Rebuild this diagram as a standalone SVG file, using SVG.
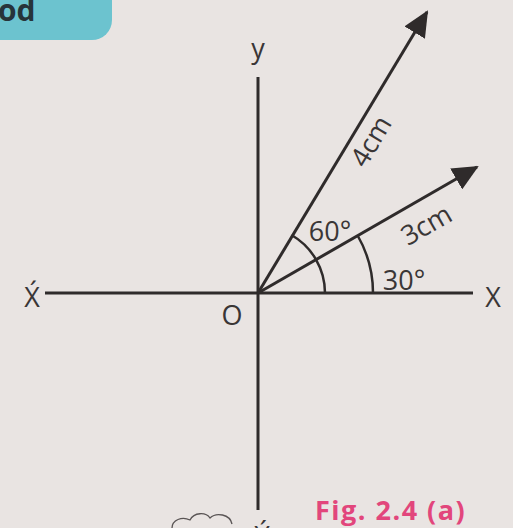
<svg xmlns="http://www.w3.org/2000/svg" width="513" height="528" viewBox="0 0 513 528">
<style>
.ln{stroke:#2f2b2b;stroke-width:3;fill:none;stroke-linecap:butt}
.arc{stroke:#2f2b2b;stroke-width:2.5;fill:none}
.t{font-family:"Open Sans","Liberation Sans",sans-serif;fill:#3a3636;font-size:27px}
.fig{font-family:"Open Sans","Liberation Sans",sans-serif;font-weight:bold;fill:#e2467c;font-size:27px;letter-spacing:1.5px}
</style>
<defs>
<marker id="head" viewBox="0 0 26 24" refX="24" refY="12" markerWidth="26" markerHeight="24" orient="auto" markerUnits="userSpaceOnUse">
<path d="M0,0 L26,12 L0,24 Z" fill="#2f2b2b"/>
</marker>
</defs>
<rect width="513" height="528" fill="#e9e4e2"/>
<g id="header">
<path d="M0,0 H112 V20 A20,20 0 0 1 92,40 H0 Z" fill="#6cc3cf"/>
<text x="-2" y="21" style="font-family:'Open Sans','Liberation Sans',sans-serif;font-weight:bold;font-size:30px;fill:#27343a">od</text>
</g>
<g id="axes">
<line class="ln" x1="45" y1="293" x2="473" y2="293"/>
<line class="ln" x1="258" y1="77" x2="258" y2="510"/>
<text class="t" x="258" y="58" text-anchor="middle">y</text>
<text class="t" x="232" y="325" text-anchor="middle">O</text>
<text class="t" x="493" y="307" text-anchor="middle">X</text>
<text class="t" x="32" y="307" text-anchor="middle">X́</text>
<text class="t" x="262" y="546" text-anchor="middle">Ý</text>
</g>
<g id="connectors">
<line class="ln" x1="258" y1="293" x2="427" y2="12" marker-end="url(#head)"/>
<line class="ln" x1="258" y1="293" x2="477" y2="167" marker-end="url(#head)"/>
<path class="arc" d="M325,293 A67,67 0 0 0 291.5,235"/>
<path class="arc" d="M373,293 A115,115 0 0 0 357.6,235.5"/>
</g>
<g id="labels">
<text class="t" transform="translate(379,146) rotate(-59)" text-anchor="middle">4cm</text>
<text class="t" transform="translate(431,233) rotate(-30)" text-anchor="middle">3cm</text>
<text class="t" x="330" y="241" text-anchor="middle">60°</text>
<text class="t" x="404" y="290" text-anchor="middle">30°</text>
</g>
<g id="caption">
<text class="fig" x="315" y="520">Fig. 2.4 (a)</text>
<path d="M172,528 C172,520 182,516 190,520 C194,512 206,512 210,518 C216,512 230,514 232,524" fill="none" stroke="#5a5555" stroke-width="1.3"/>
</g>
</svg>
